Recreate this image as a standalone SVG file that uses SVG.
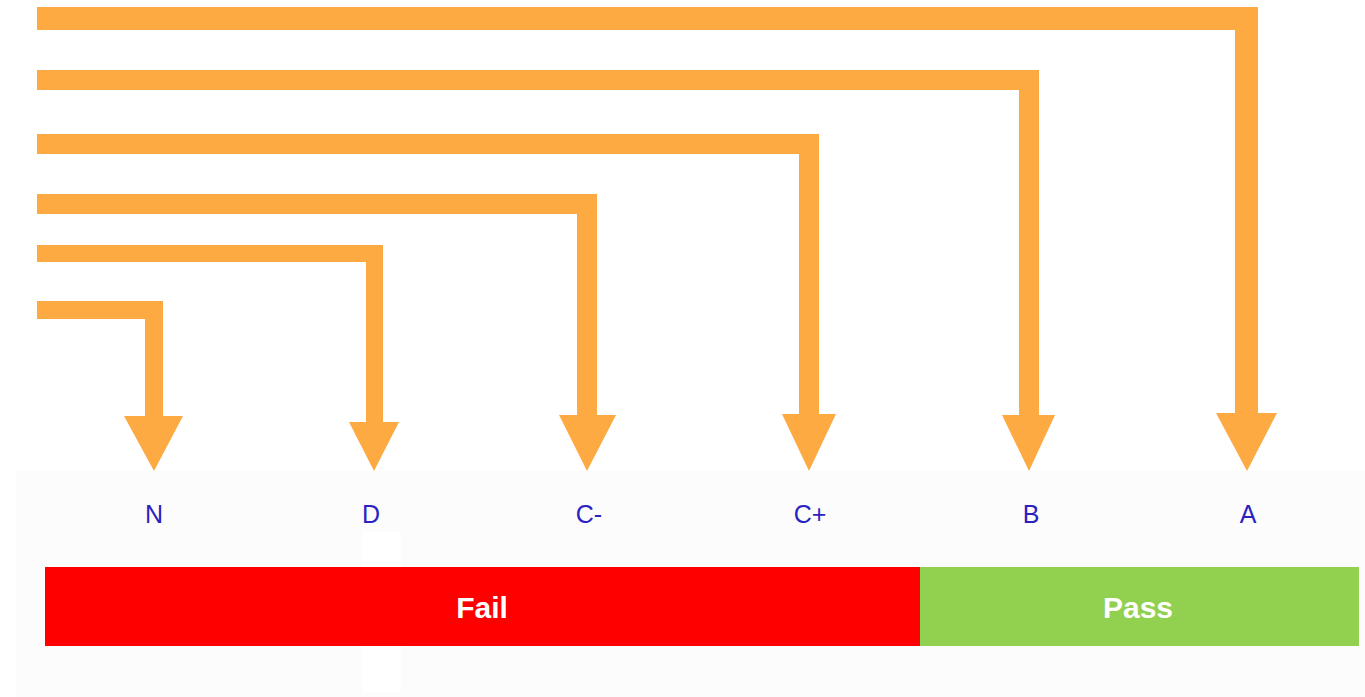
<svg xmlns="http://www.w3.org/2000/svg" width="1365" height="697" viewBox="0 0 1365 697">
  <style>
    .arrow { fill: #fdaa42; }
    .grade { font-family: "Liberation Sans", Arial, sans-serif; font-size: 25px; fill: #2b22c0; text-anchor: middle; }
    .band { font-family: "Liberation Sans", Arial, sans-serif; font-size: 30px; font-weight: bold; fill: #ffffff; text-anchor: middle; }
  </style>
  <rect x="0" y="0" width="1365" height="697" fill="#ffffff"/>
  <rect x="16" y="471" width="1349" height="226" fill="#fcfcfc"/>
  <rect x="362" y="532" width="39" height="160" fill="#ffffff"/>
  <g id="connectors">
    <path class="arrow" d="M37,7 H1258 V413 H1277 L1247,471 L1216,413 H1235 V30 H37 Z"/>
    <path class="arrow" d="M37,70 H1039 V415 H1055 L1029,471 L1002,415 H1019 V90 H37 Z"/>
    <path class="arrow" d="M37,134 H819 V414 H836 L809,471 L782,414 H799 V154 H37 Z"/>
    <path class="arrow" d="M37,194 H597 V415 H616 L587,471 L559,415 H577 V214 H37 Z"/>
    <path class="arrow" d="M37,245 H383 V422 H399 L374,471 L349,422 H366 V262 H37 Z"/>
    <path class="arrow" d="M37,301 H163 V416 H183 L154,471 L124,416 H145 V319 H37 Z"/>
  </g>
  <g id="grade-N"><text class="grade" x="154" y="523">N</text></g>
  <g id="grade-D"><text class="grade" x="371" y="523">D</text></g>
  <g id="grade-Cminus"><text class="grade" x="589" y="523">C-</text></g>
  <g id="grade-Cplus"><text class="grade" x="810" y="523">C+</text></g>
  <g id="grade-B"><text class="grade" x="1031" y="523">B</text></g>
  <g id="grade-A"><text class="grade" x="1248" y="523">A</text></g>
  <g id="fail">
    <rect x="45" y="567" width="875" height="79" fill="#ff0000"/>
    <text class="band" x="482" y="618">Fail</text>
  </g>
  <g id="pass">
    <rect x="920" y="567" width="439" height="79" fill="#92d050"/>
    <text class="band" x="1138" y="618">Pass</text>
  </g>
</svg>
